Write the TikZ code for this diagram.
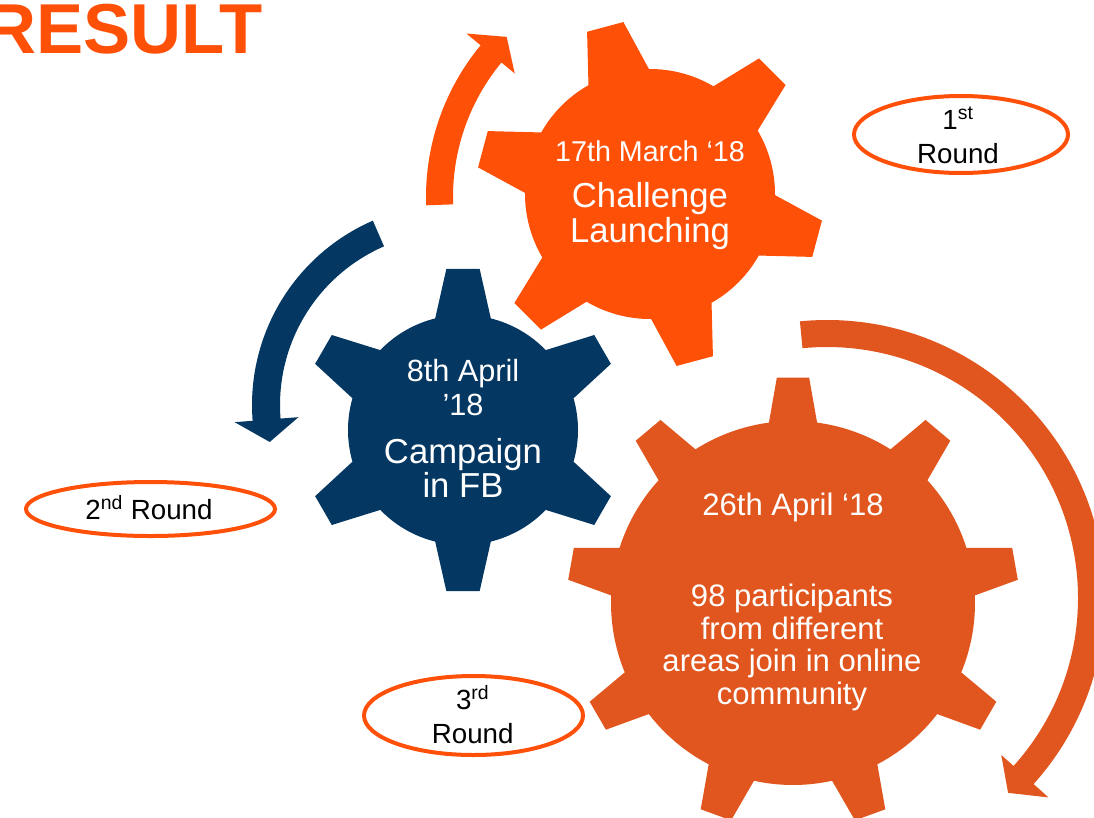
\documentclass[tikz,border=0pt]{standalone}
\usepackage{fontspec}
\setmainfont{Liberation Sans}
\usetikzlibrary{shapes.geometric}

\definecolor{launchorange}{RGB}{255,80,8}
\definecolor{fbnavy}{RGB}{4,55,98}
\definecolor{communityorange}{RGB}{224,86,30}
\definecolor{roundred}{RGB}{255,80,10}

\begin{document}
\begin{tikzpicture}[x=0.75pt,y=0.75pt,yscale=-1,xscale=1,
  gearlabel/.style={text=white, align=center, inner sep=0pt, anchor=base},
  roundlabel/.style={text=black, align=center, inner sep=0pt, anchor=base, font=\fontsize{20.8}{25}\selectfont},
  roundring/.style={draw=roundred, line width=3pt, ellipse, inner sep=0pt}]
\useasboundingbox (0,0) rectangle (1094,817);

% Text Node
\node (result) [anchor=base west, text=launchorange, inner sep=0pt, font=\fontsize{53}{53}\selectfont\bfseries] at (-15,54) {RESULT};

%Shape: Circular Arrow [1st round]
\begin{scope}[shift={(664,197)}]
\fill [launchorange] (178:211) arc[start angle=178, end angle=219.6, radius=211] -- (219.6:193.7) -- (225.5:224.5) -- (219.6:256.5) -- (219.6:238) arc[start angle=219.6, end angle=178, radius=238] -- cycle;
\end{scope}
%Shape: Circular Arrow [2nd round]
\begin{scope}[shift={(453,405)}]
\fill [fbnavy] (246.5:201) arc[start angle=246.5, end angle=175.5, radius=201] -- (175.5:219) -- (168.6:187) -- (175.5:155) -- (175.5:173) arc[start angle=175.5, end angle=246.5, radius=173] -- cycle;
\end{scope}
%Shape: Circular Arrow [3rd round]
\begin{scope}[shift={(827,598)}]
\fill [communityorange] (264.4:278) arc[start angle=264.4, end angle=402, radius=278] -- (402:298) -- (407.1:266) -- (402:234.5) -- (402:251) arc[start angle=402, end angle=264.4, radius=251] -- cycle;
\end{scope}

%Shape: Gear [6 teeth]
\begin{scope}[shift={(650,194)}]
\fill [launchorange] (0.5:125) \foreach \a in {15,75,...,315} { -- (\a-14.5:125) -- (\a-6.2:174) -- (\a+6.2:174) -- (\a+14.5:125) arc[start angle=\a+14.5, end angle=\a+45.5, radius=125] } -- cycle;
\end{scope}
%Shape: Gear [6 teeth]
\begin{scope}[shift={(463,430)}]
\fill [fbnavy] (16:115) \foreach \a in {30,90,...,330} { -- (\a-14:115) -- (\a-5.9:162) -- (\a+5.9:162) -- (\a+14:115) arc[start angle=\a+14, end angle=\a+46, radius=115] } -- cycle;
\end{scope}
%Shape: Gear [9 teeth]
\begin{scope}[shift={(793,603)}]
\fill [communityorange] (22.4:182) \foreach \a in {30,70,...,350} { -- (\a-7.6:182) -- (\a-4.1:226) -- (\a+4.1:226) -- (\a+7.6:182) arc[start angle=\a+7.6, end angle=\a+32.4, radius=182] } -- cycle;
\end{scope}

% Text Node
\node (date1) [gearlabel, font=\fontsize{21.5}{24}\selectfont] at (650,161.7) {17th March ‘18};
% Text Node
\node (task1) [gearlabel, font=\fontsize{26}{26.5}\selectfont] at (650,242.7) {Challenge\\Launching};
% Text Node
\node (date2) [gearlabel, font=\fontsize{23}{25}\selectfont] at (463,415) {8th April\\’18};
% Text Node
\node (task2) [gearlabel, font=\fontsize{26}{25.8}\selectfont] at (463,497.7) {Campaign\\in FB};
% Text Node
\node (date3) [gearlabel, font=\fontsize{23.3}{25}\selectfont] at (793,515) {26th April ‘18};
% Text Node
\node (task3) [gearlabel, font=\fontsize{23.3}{24.4}\selectfont] at (792,704.3) {98 participants\\from different\\areas join in online\\community};

%Shape: Ellipse
\node (ring1) [roundring, minimum width=160.5pt, minimum height=57.75pt] at (961,134.5) {};
\node (ring2) [roundring, minimum width=186.75pt, minimum height=40.5pt] at (150.5,509) {};
\node (ring3) [roundring, minimum width=164.25pt, minimum height=59.25pt] at (473.5,715.5) {};
% Text Node
\node (round1) [roundlabel] at (958,163.3) {1\textsuperscript{st}\\Round};
% Text Node
\node (round2) [roundlabel] at (149,519.3) {2\textsuperscript{nd} Round};
% Text Node
\node (round3) [roundlabel] at (472.7,743.3) {3\textsuperscript{rd}\\Round};

\end{tikzpicture}
\end{document}
